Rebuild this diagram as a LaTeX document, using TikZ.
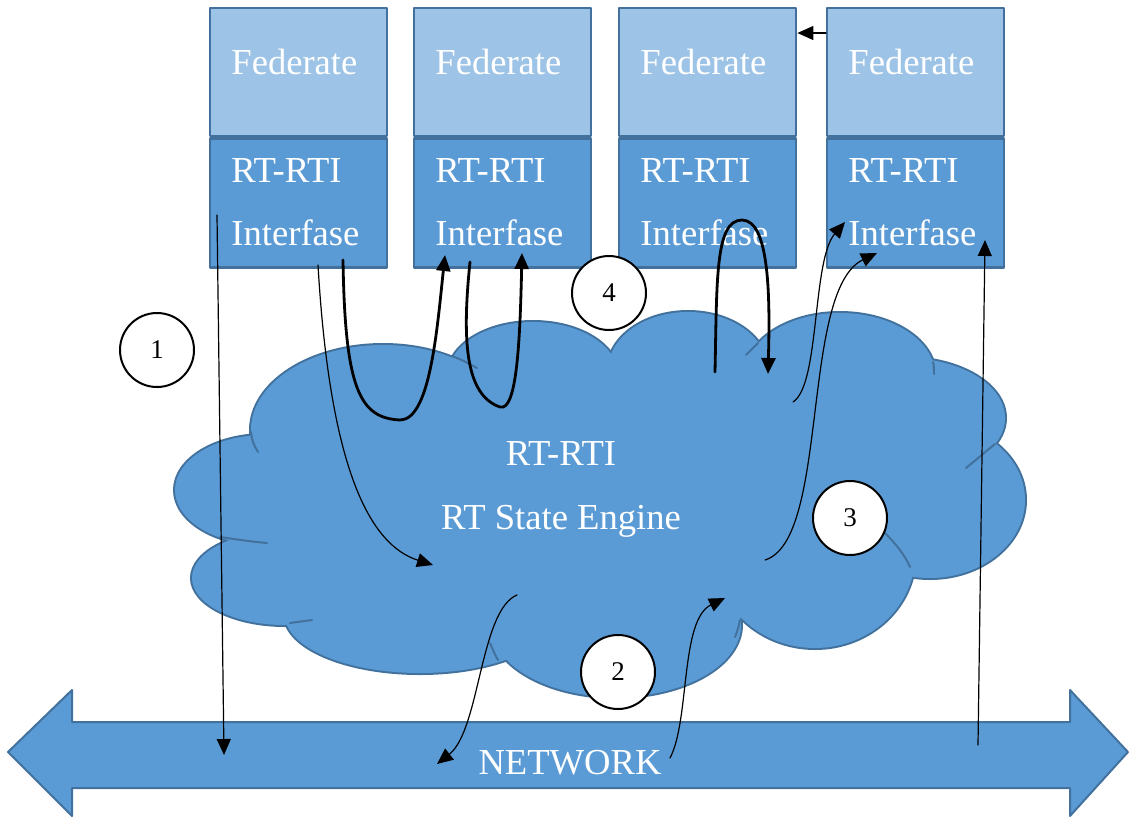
\documentclass[tikz,border=0pt]{standalone}
\usepackage{fontspec}
\setmainfont{Liberation Serif}
\usetikzlibrary{arrows.meta}

\definecolor{fedlight}{HTML}{9DC3E6}
\definecolor{fedblue}{HTML}{5B9BD5}
\definecolor{fedline}{HTML}{41719C}

\tikzset{
  fedbox/.style={draw=fedline, line width=1.2pt, fill=fedlight, inner sep=0pt,
    minimum width=88.5pt, minimum height=64pt, anchor=north west},
  rtibox/.style={fedbox, fill=fedblue, minimum height=64.5pt},
  whitetext/.style={text=white, inner sep=0pt, font=\fontsize{18.3}{22}\selectfont},
  numcirc/.style={circle, draw=black, line width=1pt, fill=white, inner sep=0pt,
    minimum size=37pt, font=\fontsize{13.5}{16}\selectfont},
  thinarr/.style={->, line width=0.6pt},
  thickarr/.style={->, line width=1.4pt}
}

\begin{document}
\begin{tikzpicture}[line cap=round,line join=round,x=0.5pt,y=-0.5pt,
    >={Triangle[length=8pt,width=7pt]}]

  \useasboundingbox (0,0) rectangle (1136,832);

  % netverk-pil
  \draw[fedline, line width=1pt, fill=fedblue] (8,752) -- (72,690) -- (72,722)
    -- (1070,722) -- (1070,690) -- (1128,752) -- (1070,816) -- (1070,788)
    -- (72,788) -- (72,816) -- cycle;
  \node[whitetext, anchor=base] (net) at (570,774) {NETWORK};

  % sky: kanter forst, fyll etterpa
  \foreach \cx/\cy/\rx/\ry in {265/490/90/55, 285/578/93/47, 420/615/135/58,
      616/625/125/72, 815/555/100/93, 930/500/95/78, 905/418/100/60,
      840/375/95/62, 688/370/80/58, 533/375/85/53, 383/430/132/85}
    \draw[fedline, line width=2pt] (\cx,\cy) ellipse [x radius=\rx, y radius=\ry];
  \foreach \cx/\cy/\rx/\ry in {265/490/90/55, 285/578/93/47, 420/615/135/58,
      616/625/125/72, 815/555/100/93, 930/500/95/78, 905/418/100/60,
      840/375/95/62, 688/370/80/58, 533/375/85/53, 383/430/132/85, 600/490/330/130}
    \fill[fedblue] (\cx,\cy) ellipse [x radius=\rx, y radius=\ry];

  % sma buer inne i skyen
  \draw[fedline, line width=1pt] (251,432) .. controls (252,442) and (255,447) .. (258,452);
  \draw[fedline, line width=1pt] (220,537) .. controls (240,540) and (255,542) .. (267,543);
  \draw[fedline, line width=1pt] (452,356) .. controls (460,359) and (470,364) .. (477,368);
  \draw[fedline, line width=1pt] (758,343) .. controls (754,347) and (750,351) .. (746,355);
  \draw[fedline, line width=1pt] (933,362) .. controls (934,366) and (934,370) .. (934,374);
  \draw[fedline, line width=1pt] (995,444) .. controls (985,452) and (976,460) .. (966,468);
  \draw[fedline, line width=1pt] (885,533) .. controls (895,543) and (905,555) .. (910,567);
  \draw[fedline, line width=1pt] (740,620) .. controls (739,626) and (737,632) .. (735,637);
  \draw[fedline, line width=1pt] (490,643) .. controls (493,650) and (495,655) .. (498,660);
  \draw[fedline, line width=1pt] (312,620) .. controls (305,621) and (297,622) .. (290,623);

  \node[whitetext, anchor=base] (rtitop) at (561,465) {RT-RTI};
  \node[whitetext, anchor=base] (engine) at (561,529) {RT State Engine};

  % federater
  \foreach \i/\x in {1/209,2/413,3/618,4/826}
  {
    \node[fedbox] (fed\i) at (\x,7) {};
    \node[rtibox] (rti\i) at (fed\i.south west) {};
    \node[whitetext, anchor=base west] (fedtxt\i) at (\x+22,74) {Federate};
    \node[whitetext, anchor=base west] (rtitxt\i) at (\x+22,182) {RT-RTI};
    \node[whitetext, anchor=base west] (iftxt\i) at (\x+22,245) {Interfase};
  }

  % endepunkter
  \coordinate (a1) at (217,215);
  \coordinate (b1) at (224,755);
  \coordinate (a2) at (978,745);
  \coordinate (b2) at (985,240);
  \coordinate (a3) at (318,265);
  \coordinate (b3) at (433,565);
  \coordinate (a4) at (343,260);
  \coordinate (b4) at (445,255);
  \coordinate (a5) at (470,262);
  \coordinate (b5) at (522,253);
  \coordinate (a6) at (715,372);
  \coordinate (b6) at (768,374);
  \coordinate (a7) at (793,402);
  \coordinate (b7) at (845,222);
  \coordinate (a8) at (765,560);
  \coordinate (b8) at (877,253);
  \coordinate (a9) at (517,595);
  \coordinate (b9) at (437,764);
  \coordinate (a10) at (670,758);
  \coordinate (b10) at (725,598);

  % piler
  \draw[thinarr] (a1) -- (b1);
  \draw[thinarr] (a2) -- (b2);
  \draw[thinarr] (fed4.west |- 0,33) -- (fed3.east |- 0,33);
  \draw[thinarr] (a3) .. controls (330,470) and (370,545) .. (b3);
  \draw[thickarr] (a4) .. controls (345,390) and (360,418) .. (400,420)
    .. controls (430,420) and (437,330) .. (b4);
  \draw[thickarr] (a5) .. controls (462,340) and (465,395) .. (500,407)
    .. controls (517,412) and (520,340) .. (b5);
  \draw[thickarr] (a6) .. controls (717,280) and (715,220) .. (742,220)
    .. controls (770,220) and (770,300) .. (b6);
  \draw[thinarr] (a7) .. controls (820,385) and (812,260) .. (b7);
  \draw[thinarr] (a8) .. controls (830,540) and (800,290) .. (b8);
  \draw[thinarr] (a9) .. controls (480,610) and (480,730) .. (b9);
  \draw[thinarr] (a10) .. controls (690,720) and (680,620) .. (b10);

  % nummer
  \node[numcirc] (n1) at (157,350) {1};
  \node[numcirc] (n2) at (618,672) {2};
  \node[numcirc] (n3) at (850,518) {3};
  \node[numcirc] (n4) at (609,293) {4};

\end{tikzpicture}
\end{document}
